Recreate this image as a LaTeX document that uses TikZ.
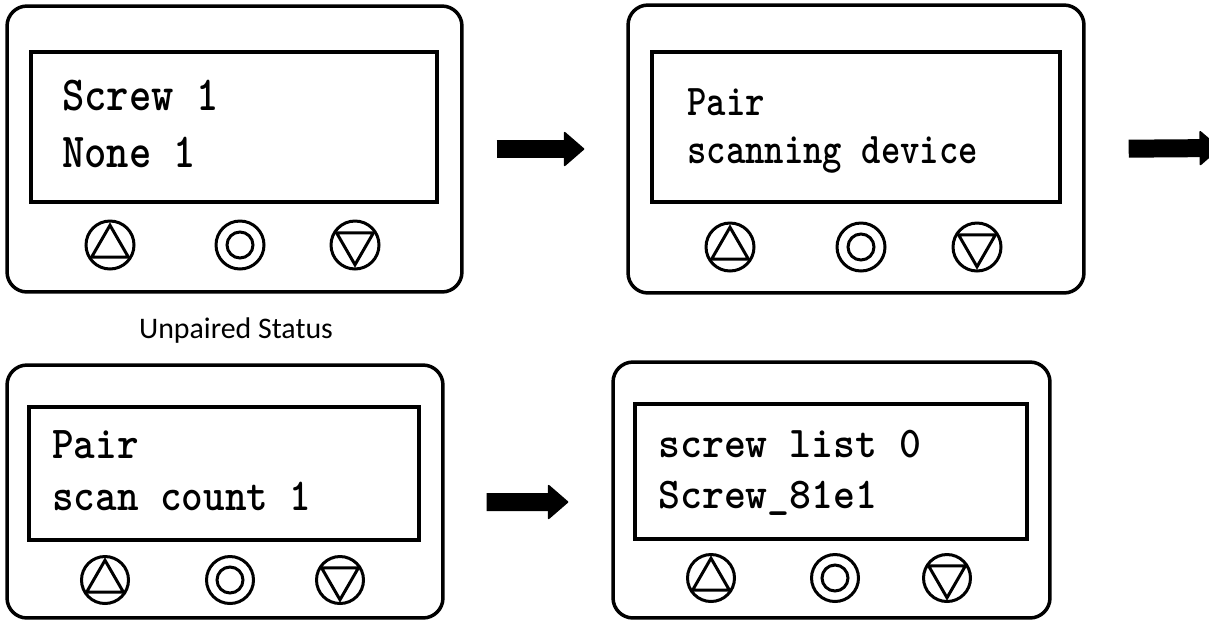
\documentclass[tikz,border=0pt]{standalone}
\usepackage{fontspec}
\newfontfamily\captionfont{Carlito}
\usetikzlibrary{positioning,arrows.meta,shapes.geometric}

\begin{document}
\begin{tikzpicture}[x=0.02cm, y=-0.02cm,
				panel/.style={rectangle, rounded corners=0.4cm, draw=black, line width=0.07cm, inner sep=0pt},
				screen/.style={rectangle, draw=black, line width=0.08cm, inner sep=0pt},
				lcd/.style={anchor=base west, inner sep=0pt, font=\ttfamily\bfseries\fontsize{#1}{#1}\selectfont},
				btn/.style={circle, draw=black, line width=0.06cm, minimum size=0.96cm, inner sep=0pt},
				okkey/.style={circle, draw=black, line width=0.06cm, minimum size=0.52cm, inner sep=0pt},
				upkey/.style={regular polygon, regular polygon sides=3, draw=black, line width=0.06cm, minimum size=0.85cm, inner sep=0pt},
				downkey/.style={upkey, shape border rotate=180},
				flow/.style={line width=0.36cm, -{Triangle[length=0.42cm, width=0.72cm, round, line width=1pt]}}
			]
			\clip (0,0) rectangle (1209,620);
			% unpaired
			\node[panel, minimum width=9.1cm, minimum height=5.72cm] (unpaired) at (234.5,149) {};
			\node[screen, minimum width=8.12cm, minimum height=3cm] (unpairedlcd) at (234,127) {};
			\node[lcd=27.8] (unpairedtop) at (62,110) {\scalebox{0.87}[1]{Screw 1}};
			\node[lcd=27.8] (unpairedbot) at (62,167) {\scalebox{0.87}[1]{None 1}};
			\node[btn] (unpairedup) at (110,245) {};
			\node[upkey] (unpairedupmark) at (110,246.5) {};
			\node[btn] (unpairedok) at (240,245) {};
			\node[okkey] (unpairedokmark) at (240,245) {};
			\node[btn] (unpaireddown) at (355,245) {};
			\node[downkey] (unpaireddownmark) at (355,243.5) {};
			\node[anchor=base, inner sep=0pt, font=\captionfont\fontsize{17}{19}\selectfont] (unpairedcap) at (236,338) {Unpaired Status};
			% scanning
			\node[panel, minimum width=9.12cm, minimum height=5.76cm] (scanning) at (856,149) {};
			\node[screen, minimum width=8.16cm, minimum height=3cm] (scanninglcd) at (856,127) {};
			\node[lcd=25] (scanningtop) at (687,115) {\scalebox{0.84}[1]{Pair}};
			\node[lcd=25] (scanningbot) at (687,163) {\scalebox{0.84}[1]{scanning device}};
			\node[btn] (scanningup) at (730,247) {};
			\node[upkey] (scanningupmark) at (730,248.5) {};
			\node[btn] (scanningok) at (861,247) {};
			\node[okkey] (scanningokmark) at (861,247) {};
			\node[btn] (scanningdown) at (977,247) {};
			\node[downkey] (scanningdownmark) at (977,245.5) {};
			\coordinate (nextstep) at (1220,148);
			% counting
			\node[panel, minimum width=8.72cm, minimum height=5.06cm] (counting) at (225,491.5) {};
			\node[screen, minimum width=7.8cm, minimum height=2.66cm] (countinglcd) at (224,473.5) {};
			\node[lcd=26] (countingtop) at (52,458) {\scalebox{0.9}[1]{Pair}};
			\node[lcd=26] (countingbot) at (52,510) {\scalebox{0.9}[1]{scan count 1}};
			\node[btn, minimum size=0.94cm] (countingup) at (105,580) {};
			\node[upkey] (countingupmark) at (105,581.5) {};
			\node[btn, minimum size=0.94cm] (countingok) at (230,580) {};
			\node[okkey] (countingokmark) at (230,580) {};
			\node[btn, minimum size=0.94cm] (countingdown) at (340,580) {};
			\node[downkey] (countingdownmark) at (340,578.5) {};
			% screw list
			\node[panel, minimum width=8.74cm, minimum height=5.12cm] (screwlist) at (831.5,490) {};
			\node[screen, minimum width=7.84cm, minimum height=2.7cm] (screwlistlcd) at (831,471.5) {};
			\node[lcd=25] (screwlisttop) at (658,457) {\scalebox{0.95}[1]{screw list 0}};
			\node[lcd=25] (screwlistbot) at (658,508) {\scalebox{0.95}[1]{Screw\_81e1}};
			\node[btn, minimum size=0.94cm] (screwlistup) at (711,578) {};
			\node[upkey] (screwlistupmark) at (711,579.5) {};
			\node[btn, minimum size=0.94cm] (screwlistok) at (835,578) {};
			\node[okkey] (screwlistokmark) at (835,578) {};
			\node[btn, minimum size=0.94cm] (screwlistdown) at (947,578) {};
			\node[downkey] (screwlistdownmark) at (947,576.5) {};
			\begin{scope}[flow]
			\draw[shorten <=0.66cm, shorten >=0.84cm] (unpaired.east) -- (scanning.west);
			\draw[shorten <=0.86cm] (scanning.east) -- (nextstep);
			\draw[shorten <=0.84cm, shorten >=0.86cm] ([yshift=-0.21cm]counting.east) -- ([yshift=-0.24cm]screwlist.west);
			\end{scope}
			\end{tikzpicture}
\end{document}
